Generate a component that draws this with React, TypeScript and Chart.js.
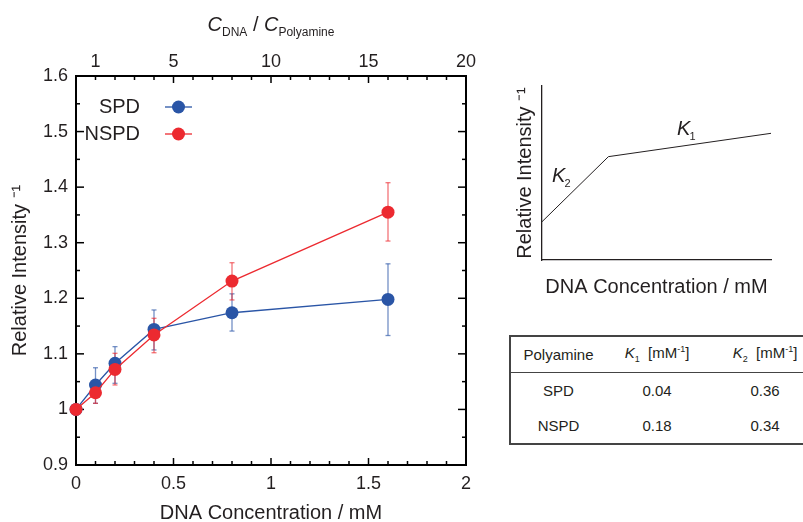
import React, { useEffect, useRef } from "react";
import { Chart, registerables } from "chart.js";

Chart.register(...registerables);

// ---------- data ----------
const concentrations = [0, 0.1, 0.2, 0.4, 0.8, 1.6];
const spdValues = [1.0, 1.044, 1.083, 1.144, 1.174, 1.198];
const spdUpper = [1.0, 1.075, 1.113, 1.179, 1.208, 1.262];
const spdLower = [1.0, 1.011, 1.047, 1.107, 1.141, 1.133];
const nspdValues = [1.0, 1.03, 1.072, 1.134, 1.231, 1.355];
const nspdUpper = [1.0, 1.047, 1.101, 1.164, 1.264, 1.408];
const nspdLower = [1.0, 1.011, 1.044, 1.102, 1.197, 1.303];
const seriesLabels = ["SPD", "NSPD"];

const topTicks = [1, 5, 10, 15, 20];

// schematic inset
const insetX = [0, 2.9, 10];
const insetY = [2.2, 5.94, 7.28];
const insetLabelK2 = { x: 0.44, y: 4.48, sub: "2" };
const insetLabelK1 = { x: 5.9, y: 7.18, sub: "1" };

// table
const tablePolyamines = ["SPD", "NSPD"];
const tableK1 = ["0.04", "0.18"];
const tableK2 = ["0.36", "0.34"];

// ---------- styles ----------
const FONT = "'Liberation Sans', Arial, Helvetica, sans-serif";
const TEXT = "#231f20";
const BLUE = "#2a55a6";
const RED = "#ec2a30";
const BLUE_ERR = "rgba(42,85,166,0.65)";
const RED_ERR = "rgba(236,42,48,0.65)";

const fmt1 = (v: number | string) => String(Math.round(Number(v) * 10) / 10);

const mainDecor = {
  id: "mainDecor",
  beforeDatasetsDraw(chart: any) {
    const { ctx, chartArea, scales } = chart;
    const { left, right, top, bottom } = chartArea;
    ctx.save();
    ctx.strokeStyle = "#000";
    ctx.lineWidth = 2;
    ctx.strokeRect(left, top, right - left, bottom - top);
    ctx.lineWidth = 1.5;
    const seg = (x1: number, y1: number, x2: number, y2: number) => {
      ctx.beginPath();
      ctx.moveTo(x1, y1);
      ctx.lineTo(x2, y2);
      ctx.stroke();
    };
    for (let i = 0; i <= 20; i++) {
      const px = scales.x.getPixelForValue(i * 0.1);
      seg(px, bottom, px, bottom - (i % 5 === 0 ? 7 : 4));
      const pt = scales.x2.getPixelForValue(i);
      seg(pt, top, pt, top + (i % 5 === 0 ? 7 : 4));
    }
    for (let i = 0; i <= 14; i++) {
      const py = scales.y.getPixelForValue(0.9 + i * 0.05);
      const len = i % 2 === 0 ? 8 : 4;
      seg(left, py, left + len, py);
      seg(right, py, right - len, py);
    }
    // error bars
    const drawErr = (upper: number[], lower: number[], color: string) => {
      ctx.strokeStyle = color;
      ctx.lineWidth = 1.3;
      concentrations.forEach((c, i) => {
        if (upper[i] === lower[i]) return;
        const px = scales.x.getPixelForValue(c);
        const y1 = scales.y.getPixelForValue(upper[i]);
        const y2 = scales.y.getPixelForValue(lower[i]);
        seg(px, y1, px, y2);
        seg(px - 2.5, y1, px + 2.5, y1);
        seg(px - 2.5, y2, px + 2.5, y2);
      });
    };
    drawErr(spdUpper, spdLower, BLUE_ERR);
    drawErr(nspdUpper, nspdLower, RED_ERR);
    ctx.restore();
  },
  afterDatasetsDraw(chart: any) {
    const { ctx, chartArea } = chart;
    ctx.save();
    // legend
    const colors = [BLUE, RED];
    const rows = [107, 134];
    seriesLabels.forEach((lab, i) => {
      ctx.font = `20px ${FONT}`;
      ctx.fillStyle = TEXT;
      ctx.textAlign = "right";
      ctx.textBaseline = "middle";
      ctx.fillText(lab, 140, rows[i]);
      ctx.strokeStyle = colors[i];
      ctx.lineWidth = 1.3;
      ctx.beginPath();
      ctx.moveTo(165, rows[i]);
      ctx.lineTo(192, rows[i]);
      ctx.stroke();
      ctx.fillStyle = colors[i];
      ctx.beginPath();
      ctx.arc(178.5, rows[i], 6.5, 0, Math.PI * 2);
      ctx.fill();
    });
    // top axis title
    const cx = (chartArea.left + chartArea.right) / 2;
    const base = chartArea.top - 45;
    const parts = [
      { t: "C", f: `italic 20px ${FONT}`, dy: 0 },
      { t: "DNA", f: `12px ${FONT}`, dy: 5 },
      { t: " / ", f: `20px ${FONT}`, dy: 0 },
      { t: "C", f: `italic 20px ${FONT}`, dy: 0 },
      { t: "Polyamine", f: `12px ${FONT}`, dy: 5 },
    ];
    let total = 0;
    const widths = parts.map((p) => {
      ctx.font = p.f;
      const w = ctx.measureText(p.t).width;
      total += w;
      return w;
    });
    let x = cx - total / 2;
    ctx.fillStyle = TEXT;
    ctx.textAlign = "left";
    ctx.textBaseline = "alphabetic";
    parts.forEach((p, i) => {
      ctx.font = p.f;
      ctx.fillText(p.t, x, base + p.dy);
      x += widths[i];
    });
    ctx.restore();
  },
};

const insetDecor = {
  id: "insetDecor",
  afterDatasetsDraw(chart: any) {
    const { ctx, scales } = chart;
    ctx.save();
    ctx.fillStyle = TEXT;
    ctx.textAlign = "left";
    ctx.textBaseline = "alphabetic";
    [insetLabelK2, insetLabelK1].forEach((l) => {
      const px = scales.x.getPixelForValue(l.x);
      const py = scales.y.getPixelForValue(l.y);
      ctx.font = `italic 20px ${FONT}`;
      ctx.fillText("K", px, py);
      const w = ctx.measureText("K").width;
      ctx.font = `11px ${FONT}`;
      ctx.fillText(l.sub, px + w - 1, py + 5);
    });
    ctx.restore();
  },
};

function MainChart() {
  const ref = useRef<HTMLCanvasElement>(null);
  useEffect(() => {
    if (!ref.current) return;
    const tickFont = { family: FONT, size: 18 };
    const titleFont = { family: FONT, size: 20, lineHeight: 1 };
    const chart = new Chart(ref.current, {
      type: "line",
      data: {
        datasets: [
          {
            label: seriesLabels[0],
            data: concentrations.map((x, i) => ({ x, y: spdValues[i] })),
            borderColor: BLUE,
            backgroundColor: BLUE,
            borderWidth: 1.3,
            pointRadius: 6.5,
            pointBorderWidth: 0,
            pointHoverRadius: 6.5,
            tension: 0,
            order: 2,
            clip: false,
          },
          {
            label: seriesLabels[1],
            data: concentrations.map((x, i) => ({ x, y: nspdValues[i] })),
            borderColor: RED,
            backgroundColor: RED,
            borderWidth: 1.3,
            pointRadius: 6.5,
            pointBorderWidth: 0,
            pointHoverRadius: 6.5,
            tension: 0,
            order: 1,
            clip: false,
          },
        ],
      },
      options: {
        animation: false,
        responsive: false,
        maintainAspectRatio: false,
        events: [],
        layout: { padding: { left: 0, right: 14, top: 0, bottom: 0 } },
        plugins: { legend: { display: false }, tooltip: { enabled: false } },
        scales: {
          x: {
            type: "linear",
            position: "bottom",
            min: 0,
            max: 2,
            ticks: { stepSize: 0.5, font: tickFont, color: TEXT, padding: 8, maxRotation: 0, callback: (v: any) => fmt1(v) },
            grid: { display: false, drawTicks: false },
            border: { display: false },
            title: { display: true, text: "DNA Concentration / mM", font: titleFont, color: TEXT, padding: { top: 0, bottom: -1 } },
            afterFit: (s: any) => {
              s.height = 57;
            },
          },
          x2: {
            type: "linear",
            position: "top",
            min: 0,
            max: 20,
            afterBuildTicks: (s: any) => {
              s.ticks = topTicks.map((v) => ({ value: v }));
            },
            ticks: { font: tickFont, color: TEXT, padding: 3, maxRotation: 0, callback: (v: any) => String(v) },
            grid: { display: false, drawTicks: false },
            border: { display: false },
            afterFit: (s: any) => {
              s.height = 76;
            },
          },
          y: {
            type: "linear",
            position: "left",
            min: 0.9,
            max: 1.6,
            ticks: { stepSize: 0.1, font: tickFont, color: TEXT, padding: 8, callback: (v: any) => fmt1(v) },
            grid: { display: false, drawTicks: false },
            border: { display: false },
            title: { display: true, text: "Relative Intensity \u207B\u00B9", font: titleFont, color: TEXT, padding: { top: 10, bottom: 0 } },
            afterFit: (s: any) => {
              s.width = 76;
            },
          },
        },
      } as any,
      plugins: [mainDecor],
    });
    return () => chart.destroy();
  }, []);
  return (
    <canvas
      ref={ref}
      width={480}
      height={522}
      style={{ position: "absolute", left: 0, top: 0, width: 480, height: 522, display: "block" }}
    />
  );
}

function InsetChart() {
  const ref = useRef<HTMLCanvasElement>(null);
  useEffect(() => {
    if (!ref.current) return;
    const titleFont = { family: FONT, size: 20, lineHeight: 1 };
    const chart = new Chart(ref.current, {
      type: "line",
      data: {
        datasets: [
          {
            data: insetX.map((x, i) => ({ x, y: insetY[i] })),
            borderColor: TEXT,
            borderWidth: 1,
            pointRadius: 0,
            tension: 0,
            clip: false,
          },
        ],
      },
      options: {
        animation: false,
        responsive: false,
        maintainAspectRatio: false,
        events: [],
        layout: { padding: { left: 0, right: 32, top: 16, bottom: 0 } },
        plugins: { legend: { display: false }, tooltip: { enabled: false } },
        scales: {
          x: {
            type: "linear",
            min: 0,
            max: 10,
            ticks: { display: false },
            grid: { display: false, drawTicks: false },
            border: { display: true, color: TEXT, width: 1.3 },
            title: { display: true, text: "DNA Concentration / mM", font: titleFont, color: TEXT, padding: { top: 0, bottom: 13 } },
            afterFit: (s: any) => {
              s.height = 50;
            },
          },
          y: {
            type: "linear",
            min: 0,
            max: 10,
            ticks: { display: false },
            grid: { display: false, drawTicks: false },
            border: { display: true, color: TEXT, width: 1.3 },
            title: { display: true, text: "Relative Intensity \u207B\u00B9", font: titleFont, color: TEXT, padding: { top: 15, bottom: 0 } },
            afterFit: (s: any) => {
              s.width = 42;
            },
          },
        },
      } as any,
      plugins: [insetDecor],
    });
    return () => chart.destroy();
  }, []);
  return (
    <canvas
      ref={ref}
      width={303}
      height={240}
      style={{ position: "absolute", left: 500, top: 70, width: 303, height: 240, display: "block" }}
    />
  );
}

function KHeader({ n }: { n: string }) {
  return (
    <span>
      <i>K</i>
      <span style={{ fontSize: 9, verticalAlign: -4 }}>{n}</span>
      {"\u00A0\u00A0[mM"}
      <span style={{ fontSize: 9, verticalAlign: 6 }}>-1</span>
      {"]"}
    </span>
  );
}

function ParamTable() {
  const cell: React.CSSProperties = {
    textAlign: "center",
    padding: 0,
    fontFamily: FONT,
    fontSize: 15,
    color: TEXT,
    whiteSpace: "nowrap",
  };
  return (
    <table
      style={{
        position: "absolute",
        left: 509,
        top: 335,
        width: 312,
        borderCollapse: "collapse",
        tableLayout: "fixed",
        borderTop: "2px solid #444",
        borderLeft: "2px solid #444",
        borderBottom: "2px solid #444",
      }}
    >
      <colgroup>
        <col style={{ width: 96 }} />
        <col style={{ width: 102 }} />
        <col style={{ width: 114 }} />
      </colgroup>
      <thead>
        <tr style={{ height: 36 }}>
          <th style={{ ...cell, fontWeight: "normal", borderBottom: "1px solid #444" }}>Polyamine</th>
          <th style={{ ...cell, fontWeight: "normal", borderBottom: "1px solid #444" }}>
            <KHeader n="1" />
          </th>
          <th style={{ ...cell, fontWeight: "normal", borderBottom: "1px solid #444" }}>
            <KHeader n="2" />
          </th>
        </tr>
      </thead>
      <tbody>
        {tablePolyamines.map((p, i) => (
          <tr key={p} style={{ height: 36 }}>
            <td style={cell}>{p}</td>
            <td style={cell}>{tableK1[i]}</td>
            <td style={cell}>{tableK2[i]}</td>
          </tr>
        ))}
      </tbody>
    </table>
  );
}

export default function App() {
  return (
    <div
      style={{
        position: "absolute",
        left: 0,
        top: 0,
        width: 803,
        height: 522,
        overflow: "hidden",
        background: "#fff",
      }}
    >
      <MainChart />
      <InsetChart />
      <ParamTable />
    </div>
  );
}
